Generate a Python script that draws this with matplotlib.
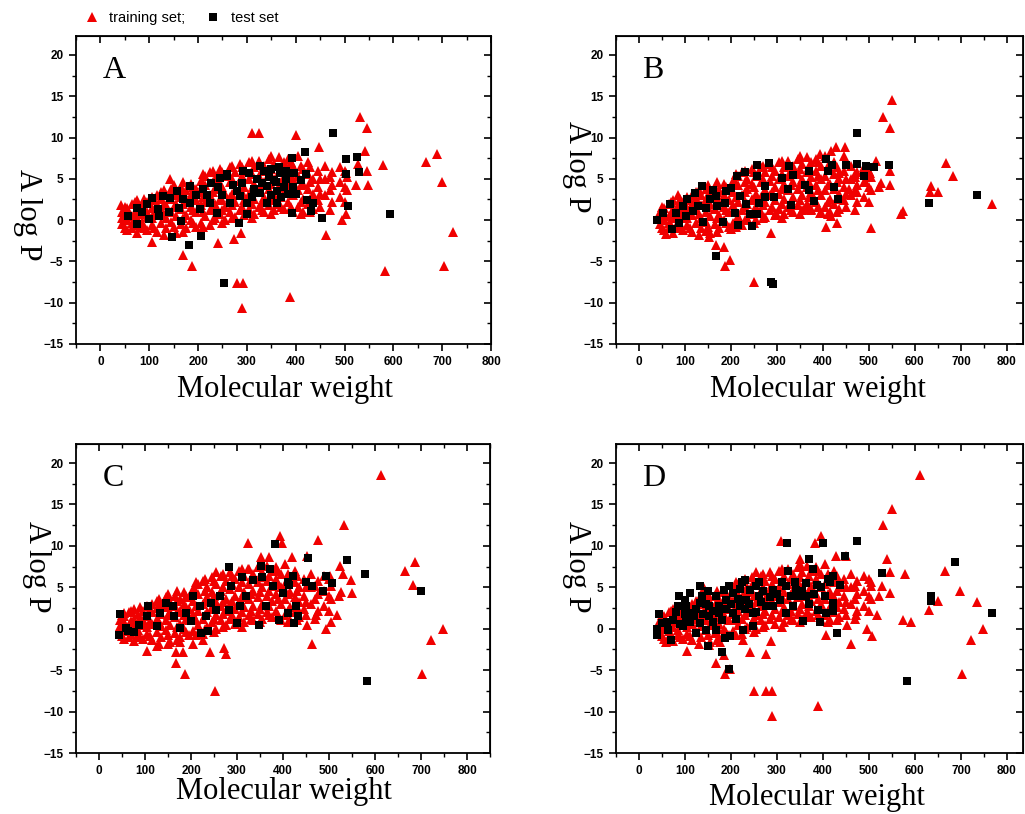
import numpy as np
import matplotlib
matplotlib.use('Agg')
import matplotlib.pyplot as plt
from matplotlib.ticker import MultipleLocator
from matplotlib.lines import Line2D

# dense core of the training cloud (same data set in every panel)
core_pts = [(45,-0.5),(45,0.3),(45,1.0),(55,-1.2),(55,0.0),(55,1.5),(55,0.8),
            (65,-1.0),(65,0.5),(65,2.0),(65,-0.3),(75,-1.5),(75,0.2),(75,1.2),(75,2.4),
            (85,-0.8),(85,0.8),(85,1.8),(85,-0.2),(95,-1.2),(95,0.4),(95,2.2),(95,1.0),
            (105,-0.6),(105,1.5),(105,2.8),(105,0.2),(115,-1.4),(115,0.6),(115,2.0),(115,3.0),
            (125,-0.4),(125,1.2),(125,2.5),(125,3.4),(135,-1.0),(135,0.3),(135,1.8),(135,3.0),
            (145,-0.2),(145,1.0),(145,2.6),(145,3.8),(155,-1.6),(155,0.5),(155,2.0),(155,3.2),
            (165,-0.5),(165,1.4),(165,2.8),(165,4.0),(175,-1.0),(175,0.6),(175,2.2),(175,3.6),
            (185,0.0),(185,1.6),(185,3.0),(185,4.4),(195,-0.8),(195,1.0),(195,2.4),(195,3.8),
            (205,-0.3),(205,1.8),(205,3.4),(205,4.8),(215,0.5),(215,2.2),(215,4.2),(215,5.4),
            (225,-0.6),(225,1.2),(225,3.0),(225,5.8),(235,0.2),(235,2.0),(235,3.8),(235,5.0),
            (245,0.8),(245,2.6),(245,4.4),(245,6.2),(255,0.0),(255,1.6),(255,3.2),(255,5.4),
            (265,1.0),(265,2.8),(265,4.6),(265,6.4),(275,0.4),(275,2.2),(275,3.6),(275,5.8),
            (285,1.2),(285,3.0),(285,4.8),(285,6.8),(295,0.6),(295,2.4),(295,4.0),(295,6.0),
            (305,1.4),(305,3.2),(305,5.0),(305,7.0),(315,0.8),(315,2.6),(315,4.4),(315,6.4),
            (325,1.6),(325,3.6),(325,5.4),(325,7.2),(335,1.0),(335,2.8),(335,4.6),(335,6.6),
            (345,1.8),(345,3.8),(345,5.6),(345,7.4),(355,1.2),(355,3.0),(355,5.0),(355,6.8),
            (365,2.0),(365,4.0),(365,5.8),(365,7.6),(375,1.4),(375,3.4),(375,5.2),(375,7.0),
            (385,2.2),(385,4.2),(385,6.0),(385,7.4),(395,1.0),(395,3.0),(395,5.0),(395,6.6),
            (405,1.6),(405,3.6),(405,5.4),(405,7.8),(415,1.0),(415,2.6),(415,4.4),(415,6.2),
            (425,2.0),(425,3.8),(425,5.6),(425,7.0),(435,1.4),(435,3.2),(435,5.0),
            (445,2.4),(445,4.0),(445,6.0),(460,3.0),(460,5.0),(460,6.6),
            (475,2.2),(475,4.2),(475,5.8),(490,2.8),(490,4.6),(490,6.4),(505,3.6),(505,5.2)]
core_fill = [(50,-0.9),(50,0.6),(50,1.6),(70,-0.6),(70,0.9),(70,2.2),(90,-1.0),(90,1.3),
             (90,2.6),(110,-0.9),(110,0.9),(110,2.4),(130,-1.8),(130,0.8),(130,2.0),(130,3.6),
             (150,-0.8),(150,1.6),(150,3.0),(150,4.2),(170,-1.4),(170,0.2),(170,2.0),(170,3.4),
             (170,4.6),(190,-0.4),(190,1.2),(190,2.6),(190,4.0),(210,-0.8),(210,1.0),(210,2.8),
             (210,4.4),(210,5.6),(230,0.0),(230,1.6),(230,3.4),(230,4.6),(230,6.0),(250,-0.4),
             (250,1.2),(250,2.4),(250,4.0),(250,5.8),(270,0.2),(270,1.8),(270,3.2),(270,5.0),
             (270,6.6),(290,1.6),(290,3.4),(290,5.4),(290,6.4),(310,0.2),(310,2.0),(310,3.8),
             (310,5.6),(310,7.2),(330,1.2),(330,2.2),(330,4.2),(330,6.0),(350,0.8),(350,2.4),
             (350,4.4),(350,6.2),(350,7.8),(370,1.6),(370,2.8),(370,4.6),(370,6.4),(390,1.6),
             (390,3.6),(390,5.4),(390,7.0),(410,0.8),(410,2.2),(410,4.2),(410,6.6),(430,1.0),
             (430,2.6),(430,4.6),(430,6.4),(450,1.6),(450,3.2),(450,5.0),(470,1.2),(470,3.6),
             (470,5.2),(500,2.2),(500,4.0),(500,6.0)]

# panel A
a_train = [(531,12.5),(547,11.2),(310,10.5),(325,10.5),(401,10.3),(447,8.8),(541,8.4),
           (689,8.0),(666,7.0),(579,6.7),(699,4.6),(723,-1.4),(583,-6.1),(703,-5.6),
           (279,-7.6),(292,-7.6),(291,-10.6),(389,-9.3),(188,-5.6),(170,-4.2),(240,-2.8),
           (105,-2.7),(274,-2.3),(288,-1.5),(462,-1.8),(495,0.0),(504,0.8),(549,4.3),
           (547,5.9),(528,6.8),(524,4.3),(504,5.7),(142,5.0),(43,1.8)]
a_test = [(476,10.5),(420,8.3),(504,7.4),(525,7.7),(529,5.8),(502,5.6),(507,1.7),(593,0.7),
          (453,0.3),(253,-7.6),(182,-3.0),(147,-2.0),(205,-1.9),(284,-0.4),(392,7.5),
          (421,5.6),(423,2.4),(436,2.1),(432,1.1),(392,0.9),(300,0.7),(57,0.5),(74,-0.5),
          (100,0.1),(106,2.7),(118,1.4),(74,1.5),(166,-0.1),(184,2.1),(184,4.1),(227,4.5),
          (245,5.1),(259,5.3),(293,6.0),(326,6.6),(305,5.7),(355,4.9),(368,5.7),(341,4.1),
          (362,3.5),(327,3.3),(286,2.9),(266,2.1),(225,2.1),(238,0.9),(204,1.3),(142,2.7),
          (156,3.5),(128,2.9),(218,3.1),(300,2.1),(396,5.7),(410,4.9),(341,2.1),(362,2.1),
          (272,4.3),(330,4.5),(345,5.2),(350,3.0),(360,4.6),(375,4.0),(380,5.0),(385,3.2),
          (370,2.8),(315,3.8),(320,5.0),(335,6.0),(350,6.2),(365,6.4),(380,6.0),(395,4.0),
          (400,3.2),(290,4.5),(280,3.5),(250,3.0),(240,4.0),(210,3.8),(195,3.0),(170,2.5),
          (160,1.5),(140,1.0),(120,0.5),(95,2.0),(85,1.0),(260,5.6),(310,2.8)]

# panel B
b_train = [(551,14.5),(530,12.5),(545,11.2),(449,8.8),(429,8.8),(418,8.4),(446,7.8),
           (393,8.0),(516,7.2),(667,6.9),(683,5.4),(635,4.1),(650,3.4),(633,3.4),(768,1.9),
           (575,1.1),(570,0.7),(505,-1.0),(430,-0.3),(407,-0.8),(418,0.5),(286,-1.5),
           (251,-7.5),(197,-4.8),(188,-5.6),(184,-3.2),(167,-3.0),(152,-2.0),(145,-1.3),
           (59,-1.7),(85,3.1),(545,5.9),(546,4.3),(522,4.0),(526,4.5),(473,3.4),(456,3.8),
           (491,4.7),(502,5.7),(469,5.6),(435,5.7),(358,1.4),(373,1.2),(393,0.9),(297,0.9),
           (199,-1.1)]
b_test = [(474,10.5),(407,7.4),(420,6.7),(451,6.7),(474,6.8),(494,6.5),(510,6.4),(543,6.7),
          (489,5.3),(411,5.9),(370,5.9),(424,4.0),(433,2.5),(380,2.3),(330,1.8),(370,3.6),
          (360,4.2),(324,3.8),(326,6.6),(335,5.5),(310,5.1),(283,6.9),(256,6.7),(230,5.8),
          (214,5.3),(257,5.3),(275,4.1),(294,2.8),(275,2.8),(261,2.1),(257,0.8),(242,0.8),
          (246,-0.7),(215,-0.6),(208,0.9),(233,1.9),(220,2.9),(201,3.9),(183,-0.2),
          (168,-4.3),(287,-7.5),(292,-7.7),(630,2.1),(736,3.0),(40,0.0),(52,0.9),(68,1.9),
          (72,-1.1),(88,-0.3),(104,2.6),(121,3.3),(136,4.1),(128,1.7),(139,-0.2),(154,2.5),
          (168,2.9),(170,1.7),(186,2.1),(81,0.9),(103,0.5),(146,1.5),(161,3.7),(190,3.5),
          (117,1.1),(96,1.7)]

# panel C
c_train = [(614,18.6),(532,12.5),(393,11.2),(397,10.4),(324,10.4),(476,10.7),(688,8.1),
           (666,7.0),(683,5.3),(748,0.0),(721,-1.4),(703,-5.5),(462,-1.8),(253,-7.5),
           (188,-5.5),(168,-4.1),(277,-3.0),(272,-2.3),(241,-2.8),(183,-2.8),(168,-2.8),
           (104,-2.7),(126,-2.1),(150,-1.8),(176,-1.6),(204,-1.8),(226,-1.3),(494,0.0),
           (453,0.5),(504,0.8),(518,1.7),(471,1.7),(549,4.3),(547,5.9),(527,4.4),(521,3.9),
           (530,6.6),(523,7.6),(503,6.4),(452,8.8),(420,8.6),(353,8.6),(370,8.6),(324,7.2),
           (255,6.9),(54,1.9),(45,-0.1)]
c_test = [(383,10.2),(454,8.5),(540,8.3),(579,6.6),(699,4.5),(583,-6.3),(494,6.4),(506,5.5),
          (488,4.6),(463,5.1),(451,5.7),(421,6.4),(410,5.7),(413,5.3),(429,2.7),(433,1.5),
          (423,0.7),(411,1.9),(391,1.1),(348,0.4),(300,0.7),(283,7.4),(288,5.1),(283,2.3),
          (311,6.3),(335,5.9),(353,7.6),(371,7.2),(355,6.3),(378,5.1),(399,4.3),(364,2.7),
          (306,2.7),(320,3.9),(262,3.9),(244,3.1),(233,1.5),(222,-0.5),(236,-0.3),(204,3.9),
          (201,0.9),(175,0.1),(161,2.7),(146,3.1),(132,1.9),(125,0.3),(107,2.7),(104,1.5),
          (88,0.4),(75,-0.4),(58,0.1),(45,1.8),(43,-0.7),(63,-0.3),(164,1.5),(190,1.9),
          (219,2.7),(255,2.3)]

# panel D (whole set)
d_train = [(612,18.6),(551,14.5),(530,12.5),(395,11.2),(309,10.6),(382,10.4),(389,-9.3),
           (289,-10.5),(289,-7.5),(277,-7.5),(251,-7.5),(188,-5.5),(168,-4.1),(277,-3.0),
           (241,-2.8),(104,-2.7),(666,7.0),(578,6.6),(697,4.6),(735,3.2),(651,3.4),(630,2.3),
           (574,1.1),(592,0.8),(748,0.0),(721,-1.4),(702,-5.5),(462,-1.8),(507,-0.9),
           (407,-0.8),(546,6.9),(539,8.4),(546,4.3),(522,3.9),(529,5.1),(451,8.8),(429,8.8),
           (351,8.4),(255,6.9),(141,4.9),(59,-1.6),(504,5.7),(495,0.0),(286,-1.5),(197,-4.8),
           (184,-3.2),(152,-2.0),(226,-1.3),(176,-1.6),(518,1.7),(471,1.7),(453,0.5)]
d_test = [(322,10.4),(400,10.3),(474,10.6),(447,8.8),(369,8.4),(528,6.7),(688,8.0),(635,4.0),
          (635,3.4),(768,1.9),(582,-6.3),(430,-0.5),(393,0.8),(357,0.9),(196,-4.9),
          (180,-2.8),(151,-2.1),(197,-0.9),(187,-1.1),(39,0.0),(44,1.8),(40,-0.7),(421,6.4),
          (436,5.3),(415,5.7),(421,3.1),(421,2.1),(407,1.9),(389,2.3),(325,7.0),(262,5.7),
          (225,5.7),(230,5.9),(185,4.7),(136,4.0),(378,7.2),(386,5.3),(364,5.5),(342,4.7),
          (306,3.5),(320,1.9),(277,2.7),(248,1.9),(248,0.3),(226,-0.1),(219,2.7),(204,1.9),
          (190,3.5),(168,3.9),(153,2.7),(132,3.1),(117,1.9),(103,2.7),(88,3.9),(85,2.8),
          (74,1.1),(63,-0.1),(70,-1.3),(96,0.3),(125,-0.5),(146,-0.1),(168,-0.1),(132,0.7),
          (153,1.5),(175,1.9),(204,4.3),(241,4.7),(291,4.7),(320,5.1),(349,3.9),(364,3.9),
          (335,2.7),(291,2.7),(262,3.9),(233,3.5),(255,5.1),(110,4.3),(132,5.1),(103,1.1),
          (49,0.7),(99,3.5),(110,0.8),(120,1.5),(125,2.4),(140,1.8),(145,3.0),(160,2.2),
          (160,0.8),(175,2.8),(180,1.0),(190,2.4),(200,3.0),(210,1.2),(215,3.6),(230,2.4),
          (240,3.0),(255,2.0),(265,3.2),(270,4.5),(285,3.8),(300,4.2),(310,5.6),(330,4.0),
          (340,5.6),(355,4.6),(370,3.0),(380,4.2),(395,5.0),(405,4.0),(410,6.0),(100,1.8),
          (90,0.6),(80,2.0),(60,0.8),(150,4.5),(195,5.2),(220,4.8)]

panel_names = ['A', 'B', 'C', 'D']
train_sets = [a_train, b_train, c_train, d_train]
test_sets = [a_test, b_test, c_test, d_test]
x_right = [800, 835, 850, 835]

W, H = 1025, 814
# axes boxes in pixels: left, top, right, bottom
boxes = [(76, 36, 491, 344), (616, 36, 1023, 344), (76, 444, 490, 753), (616, 444, 1023, 753)]
ylab_pos = [(27, 215), (577, 167), (36, 567), (577, 567)]
xlab_pos = [(285, 390), (818, 390), (284, 791), (817, 797)]

red = '#f00000'
plt.rcParams['font.family'] = 'Liberation Sans'
fig = plt.figure(figsize=(W / 100, H / 100), dpi=100)

core = np.array(core_pts + core_fill)
for i in range(4):
    l, t, r, b = boxes[i]
    ax = fig.add_axes([l / W, 1 - b / H, (r - l) / W, (b - t) / H])
    tr = np.array(train_sets[i])
    te = np.array(test_sets[i])
    ax.plot(core[:, 0], core[:, 1], '^', color=red, ms=7.5, mew=0, ls='none')
    ax.plot(tr[:, 0], tr[:, 1], '^', color=red, ms=7.5, mew=0, ls='none')
    ax.plot(te[:, 0], te[:, 1], 's', color='black', ms=6, mew=0, ls='none')
    ax.set_xlim(-50, x_right[i])
    ax.set_ylim(-15, 22.3)
    ax.xaxis.set_minor_locator(MultipleLocator(50))
    ax.yaxis.set_major_locator(MultipleLocator(5))
    ax.yaxis.set_minor_locator(MultipleLocator(2.5))
    ax.set_xticks(range(0, 801, 100))
    ax.tick_params(which='major', direction='out', length=5, width=1.2, labelsize=8.5, pad=4)
    ax.tick_params(which='minor', direction='out', length=3, width=1.0)
    for lab in ax.get_xticklabels() + ax.get_yticklabels():
        lab.set_fontweight('bold')
    for s in ax.spines.values():
        s.set_linewidth(1.3)
    # inward ticks on top and right
    sx = ax.secondary_xaxis('top')
    sx.set_xticks(range(0, 801, 100))
    sx.xaxis.set_minor_locator(MultipleLocator(50))
    sx.tick_params(which='major', direction='in', length=5, width=1.2, labeltop=False)
    sx.tick_params(which='minor', direction='in', length=3, width=1.0)
    sy = ax.secondary_yaxis('right')
    sy.set_yticks(range(-15, 21, 5))
    sy.yaxis.set_minor_locator(MultipleLocator(2.5))
    sy.tick_params(which='major', direction='in', length=5, width=1.2, labelright=False)
    sy.tick_params(which='minor', direction='in', length=3, width=1.0)
    ax.text(0.065, 0.935, panel_names[i], transform=ax.transAxes, ha='left', va='top',
            fontsize=23, family='Liberation Serif')
    fig.text(ylab_pos[i][0] / W, 1 - ylab_pos[i][1] / H, 'A log P', rotation=-90,
             ha='center', va='center', fontsize=22, family='Liberation Serif')
    fig.text(xlab_pos[i][0] / W, 1 - xlab_pos[i][1] / H, 'Molecular weight',
             ha='center', va='center', fontsize=22, family='Liberation Serif')

handles = [Line2D([], [], marker='^', color=red, ls='none', ms=7.5, mew=0),
           Line2D([], [], marker='s', color='black', ls='none', ms=6, mew=0)]
fig.legend(handles, ['training set;', 'test set'], loc='center left',
           bbox_to_anchor=(70 / W, 1 - 18 / H), ncol=2, frameon=False, fontsize=10.5,
           handletextpad=0.6, columnspacing=1.3, handlelength=1.2)

fig.savefig('out.png', dpi=100)
